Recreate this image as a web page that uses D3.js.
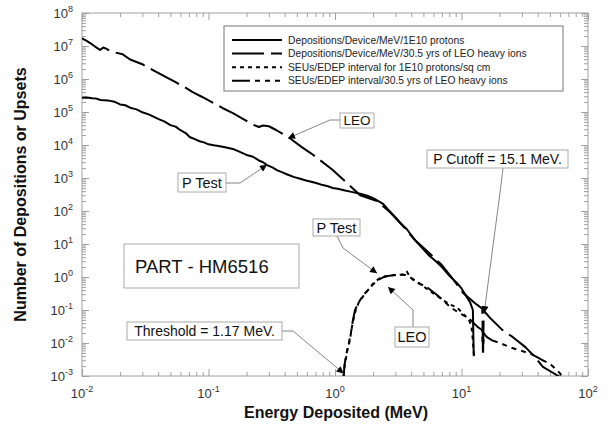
<!DOCTYPE html>
<html><head><meta charset="utf-8">
<script src="https://cdn.jsdelivr.net/npm/d3@7"></script>
<style>body{margin:0;background:#fff} text{font-family:"Liberation Sans",Arial,Helvetica,sans-serif}</style>
</head><body><svg id="c" width="608" height="427"></svg>
<script>
// ---------- DATA ----------
const xDecades = [-2, -1, 0, 1, 2];
const yDecades = [-3, -2, -1, 0, 1, 2, 3, 4, 5, 6, 7, 8];

const seriesNames = [
  "Depositions/Device/MeV/1E10 protons",
  "Depositions/Device/MeV/30.5 yrs of LEO heavy ions",
  "SEUs/EDEP interval for 1E10 protons/sq cm",
  "SEUs/EDEP interval/30.5 yrs of LEO heavy ions"
];

const protonDepE = [0.01,0.011,0.012,0.013,0.014,0.016,0.018,0.02,0.022,0.024,0.027,0.03,0.034,0.04,0.045,0.05,0.055,0.06,0.066,0.071,0.078,0.085,0.092,0.1,0.11,0.12,0.135,0.156,0.175,0.2,0.225,0.25,0.27,0.29,0.32,0.35,0.38,0.42,0.47,0.53,0.59,0.65,0.72,0.8,0.88,0.96,1.05,1.2,1.35,1.58,1.8,2.0,2.15,2.4,2.6,2.9,3.27,3.7,4.3,4.9,5.5,6.2,7.0,8.0,9.2,10.0,11.0,11.7,12.3,12.5];
const protonDepV = [2.7e5,2.75e5,2.6e5,2.55e5,2.3e5,2.25e5,2.05e5,1.7e5,1.6e5,1.35e5,1.2e5,9.8e4,8.3e4,6.2e4,5.1e4,4.0e4,3.6e4,2.8e4,2.3e4,1.75e4,1.5e4,1.3e4,1.2e4,1.05e4,9.8e3,9.3e3,8.6e3,7.6e3,6.3e3,5.0e3,4.4e3,3.4e3,3.0e3,2.45e3,2.1e3,1.7e3,1.5e3,1.28e3,1.08e3,950,840,770,690,610,560,500,470,420,380,335,290,245,210,165,115,75,44,28,13,7.5,4.6,3.1,2.0,1.1,0.66,0.45,0.25,0.17,0.1,0.004];

const heavyDepE = [0.01,0.0108,0.0116,0.0125,0.0132,0.0139,0.0147,0.0155,0.0165,0.0176,0.021,0.024,0.03,0.0364,0.045,0.055,0.065,0.075,0.09,0.11,0.13,0.156,0.19,0.22,0.25,0.27,0.3,0.345,0.44,0.55,0.65,0.76,0.95,1.2,1.58,2.15,2.7,3.27,4.3,5.5,7.0,8.5,10.3,12.8,14.6,14.8,15.0,15.2,17,21,25.5,32,38,44,52,60];
const heavyDepV = [1.7e7,1.45e7,1.23e7,1.0e7,8.6e6,7.6e6,9.0e6,8.3e6,7.3e6,6.6e6,5.6e6,3.9e6,2.8e6,1.86e6,1.2e6,8.0e5,5.6e5,4.0e5,2.8e5,1.85e5,1.3e5,9.3e4,6.0e4,4.3e4,3.5e4,3.9e4,3.7e4,2.8e4,1.6e4,8.5e3,5.5e3,3.5e3,1.8e3,800,300,200,95,44,13,5.5,2.3,0.9,0.33,0.16,0.11,0.004,0.1,0.09,0.055,0.025,0.015,0.0075,0.0038,0.0019,0.0013,0.00093];

const protonSeuE = [1.17,1.19,1.21,1.25,1.31,1.36,1.41,1.46,1.53,1.63,1.75,1.87,1.96,2.1,2.27,2.5,2.75,3.09,3.4,3.6,3.71,3.85,4.1,4.45,5.0,5.6,6.3,7.14,8.0,9.2,10.2,11.0,11.6,12.0,12.3,12.5,12.7];
const protonSeuV = [0.001,0.002,0.0028,0.006,0.012,0.03,0.06,0.1,0.16,0.23,0.33,0.45,0.58,0.75,0.93,1.05,1.12,1.15,1.2,1.25,1.45,1.1,0.85,0.7,0.52,0.38,0.28,0.2,0.15,0.12,0.08,0.06,0.045,0.03,0.012,0.005,0.0035];

const heavySeuE = [1.17,1.19,1.22,1.27,1.33,1.38,1.44,1.5,1.58,1.7,1.82,1.96,2.15,2.4,2.7,3.0,3.3,3.6,3.9,4.3,4.8,5.5,6.3,7.14,8.2,9.2,10.3,11.5,12.5,13.5,14.5,14.8,15.0,15.3,15.9,17.5,20.1,24,29,36.7,44,51,56.9,60,62];
const heavySeuV = [0.001,0.0022,0.004,0.008,0.018,0.045,0.1,0.14,0.2,0.3,0.4,0.55,0.78,0.98,1.1,1.15,1.18,1.15,1.0,0.78,0.6,0.45,0.3,0.2,0.12,0.09,0.07,0.055,0.04,0.03,0.025,0.006,0.02,0.018,0.015,0.012,0.01,0.0075,0.006,0.0044,0.003,0.0022,0.0015,0.0012,0.001];

// ---------- CHART ----------
const svg = d3.select("#c");
const L = 82, R = 588, T = 13, B = 376;
const x = d3.scaleLog().domain([1e-2, 1e2]).range([L, R]);
const y = d3.scaleLog().domain([1e-3, 1e8]).range([B, T]);

const defs = svg.append("defs");
defs.append("clipPath").attr("id","clip").append("rect")
  .attr("x",L).attr("y",T).attr("width",R-L).attr("height",B-T);
defs.append("marker").attr("id","arr").attr("viewBox","0 0 10 10")
  .attr("refX",10).attr("refY",5).attr("markerWidth",9).attr("markerHeight",7)
  .attr("markerUnits","userSpaceOnUse").attr("orient","auto")
  .append("path").attr("d","M0,0L10,5L0,10z").attr("fill","#000");

// ticks
const majX = xDecades.map(d => Math.pow(10,d));
const majY = yDecades.map(d => Math.pow(10,d));
const minors = (decs) => { const a=[]; decs.slice(0,-1).forEach(d=>{for(let k=2;k<=9;k++)a.push(k*Math.pow(10,d));}); return a; };
const minX = minors(xDecades), minY = minors(yDecades);
const axisColor = "#a0a0a0";
function drawAxis(gen, tr, vals, size) {
  const g = svg.append("g").attr("transform", tr)
    .call(gen.tickValues(vals).tickSize(-size).tickFormat(""));
  g.select(".domain").remove();
  g.selectAll("line").attr("stroke", axisColor).attr("stroke-width", 1);
}
drawAxis(d3.axisBottom(x), `translate(0,${B})`, minX, 4);
drawAxis(d3.axisBottom(x), `translate(0,${B})`, majX, 7);
drawAxis(d3.axisTop(x), `translate(0,${T})`, minX, 4);
drawAxis(d3.axisTop(x), `translate(0,${T})`, majX, 7);
drawAxis(d3.axisLeft(y), `translate(${L},0)`, minY, 4);
drawAxis(d3.axisLeft(y), `translate(${L},0)`, majY, 7);
drawAxis(d3.axisRight(y), `translate(${R},0)`, minY, 4);
drawAxis(d3.axisRight(y), `translate(${R},0)`, majY, 7);

svg.append("rect").attr("x",L).attr("y",T).attr("width",R-L).attr("height",B-T)
  .attr("fill","none").attr("stroke",axisColor).attr("stroke-width",1);

// tick labels
const xl = svg.append("g");
xDecades.forEach(d => {
  const t = xl.append("text").attr("x", x(Math.pow(10,d))).attr("y", B+22)
    .attr("text-anchor","middle").attr("font-size",13).attr("fill","#333");
  t.append("tspan").text("10");
  t.append("tspan").attr("dy",-6).attr("font-size",9).text(d);
});
yDecades.forEach(d => {
  const t = xl.append("text").attr("x", L-9).attr("y", y(Math.pow(10,d))+5)
    .attr("text-anchor","end").attr("font-size",13).attr("fill","#333");
  t.append("tspan").text("10");
  t.append("tspan").attr("dy",-6).attr("font-size",9).text(d);
});

// axis titles
svg.append("text").attr("x", (L+R)/2+1).attr("y", 418).attr("text-anchor","middle")
  .attr("font-size",16).attr("font-weight","bold").attr("fill","#111").text("Energy Deposited (MeV)");
svg.append("text").attr("transform",`translate(26,${(T+B)/2}) rotate(-90)`).attr("text-anchor","middle")
  .attr("font-size",16).attr("font-weight","bold").attr("fill","#111").text("Number of Depositions or Upsets");

// curves
const dashes = [null, "32,7", "4,4", "18,5,5,5,5,5,5,5"];
const series = [
  d3.zip(protonDepE, protonDepV),
  d3.zip(heavyDepE, heavyDepV),
  d3.zip(protonSeuE, protonSeuV),
  d3.zip(heavySeuE, heavySeuV)
];
const line = d3.line().x(d => x(d[0])).y(d => y(d[1]));
const cg = svg.append("g").attr("clip-path","url(#clip)");
series.forEach((s,i) => {
  cg.append("path").datum(s).attr("d", line).attr("fill","none")
    .attr("stroke","#000").attr("stroke-width",2).attr("stroke-linejoin","round")
    .attr("stroke-dasharray", dashes[i]);
});

// legend
const lg = svg.append("g");
lg.append("rect").attr("x",224).attr("y",26).attr("width",339).attr("height",65)
  .attr("fill","#fff").attr("stroke","#777").attr("stroke-width",1);
seriesNames.forEach((n,i) => {
  const yy = 40 + i*13.6;
  lg.append("line").attr("x1",232).attr("x2",282).attr("y1",yy).attr("y2",yy)
    .attr("stroke","#000").attr("stroke-width",2).attr("stroke-dasharray", dashes[i]);
  lg.append("text").attr("x",288).attr("y",yy+3.5).attr("font-size",10.3).attr("fill","#222").text(n);
});

// annotations
const ann = svg.append("g");
function box(x0,y0,w,h,txt,fs,tx){
  ann.append("rect").attr("x",x0).attr("y",y0).attr("width",w).attr("height",h)
    .attr("fill","#fff").attr("stroke","#aaa").attr("stroke-width",1);
  ann.append("text").attr("x", tx===undefined ? x0+w/2 : tx).attr("y", y0+h/2+fs*0.36)
    .attr("text-anchor", tx===undefined ? "middle" : "start")
    .attr("font-size",fs).attr("fill","#111").text(txt);
}
function leader(pts, tipE, tipV){
  const p = pts.concat([[x(tipE), y(tipV)]]);
  ann.append("path").attr("d", d3.line()(p)).attr("fill","none")
    .attr("stroke","#777").attr("stroke-width",0.9).attr("marker-end","url(#arr)");
}
leader([[340,120],[330,120]], 0.425, 1.6e4);
box(340,113,34,15,"LEO",13.5);
leader([[226,183],[240,183]], 0.29, 2.5e3);
box(178,173,48,19,"P Test",14.5);
leader([[337,236],[343,248]], 2.15, 1.3);
box(313,219,47,17,"P Test",14.5);
leader([[413,327],[413,310]], 2.62, 0.5);
box(395,327,34,20,"LEO",14.5);
box(124,244,175,44,"PART - HM6516",18.5,135);
leader([[282,331],[293,331]], 1.17, 1.2e-3);
box(127,322,155,18,"Threshold = 1.17 MeV.",14);
leader([[503,168],[501,185]], 15.1, 0.08);
box(427,150,141,18,"P Cutoff = 15.1 MeV.",14);
</script></body></html>
